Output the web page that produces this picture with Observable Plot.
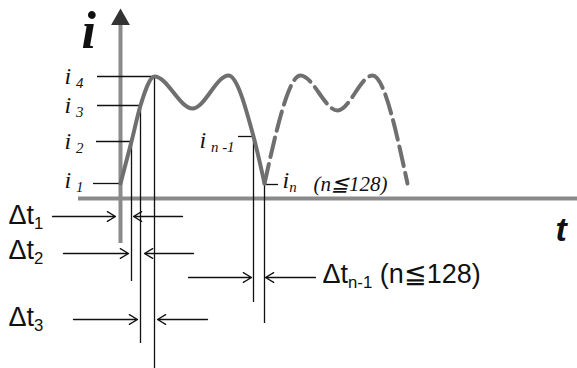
<!DOCTYPE html>
<html><head><meta charset="utf-8">
<script src="https://cdn.jsdelivr.net/npm/d3@7"></script>
<script src="https://cdn.jsdelivr.net/npm/@observablehq/plot@0.6"></script>
<style>body{margin:0;background:#fff}</style>
</head><body><div id="chart"></div>
<script>
// waveform (t, i) – solid part and dashed continuation
const solidT = [0, 11, 20, 34, 72, 108, 133, 144];
const solidI = [15, 57, 93, 122, 90, 123, 62, 15];
const dashT = [144, 180, 217, 252, 287];
const dashI = [15, 123, 88, 123, 15];

// sampled points i1..i4, i(n-1), i(n)
const sampleNames = ["i\u2009[1]", "i\u2009[2]", "i\u2009[3]", "i\u2009[4]", "i\u2009[n -1]", "i[n]"];
const sampleT = [0, 11, 20, 34, 133, 144];
const sampleI = [15, 57, 93, 122, 62, 14];
const levelEnd = [-27, -24, -23, -23, 118, 158];
const dropEnd = [15, -83, -145, -170, -104, -125];
const labelT = [-56, -56, -56, -56, 79, 162];
const labelI = [11, 50, 86, 115, 51, 11];

// interval annotations
const intervalNames = ["Δt[1]", "Δt[2]", "Δt[3]", "Δt[n-1] (n≦128)"];
const intervalRow = [-18, -55, -121, -79];
const leftTail = [-68, -57, -47, 68];
const leftTip = [-5, 8, 17, 131];
const rightTip = [13, 24, 37, 145];
const rightTail = [62, 73, 87, 195];
const intervalLabelT = [-112, -112, -112, 202];
const intervalLabelI = [-25, -60, -127, -84];

const samples = sampleNames.map((name, k) => ({name, t: sampleT[k], i: sampleI[k], end: levelEnd[k], drop: dropEnd[k], lt: labelT[k], li: labelI[k]}));
const intervals = intervalNames.map((name, k) => ({name, row: intervalRow[k], lt0: leftTail[k], lt1: leftTip[k], rt0: rightTail[k], rt1: rightTip[k], xt: intervalLabelT[k], yt: intervalLabelI[k]}));
const solid = solidT.map((t, k) => ({t, i: solidI[k]}));
const dashed = dashT.map((t, k) => ({t, i: dashI[k]}));

const axisGray = "#8a8a8a";
const curveGray = "#6f6f6f";

const svg = Plot.plot({
  width: 577, height: 368,
  margin: 0,
  x: {domain: [-120, 457], range: [0, 577], axis: null},
  y: {domain: [-170, 198], range: [368, 0], axis: null},
  style: {background: "#fff"},
  marks: [
    // axes
    Plot.ruleY([0], {x1: -42, x2: 457, stroke: axisGray, strokeWidth: 4}),
    Plot.ruleX([0], {y1: -45, y2: 176, stroke: axisGray, strokeWidth: 4}),
    Plot.dot([{t: 0, i: 179}], {x: "t", y: "i", symbol: "triangle", r: 7, fill: "#333", stroke: "none"}),
    // guides
    Plot.ruleY(samples, {y: "i", x1: "end", x2: "t", stroke: "#111", strokeWidth: 1.3}),
    Plot.ruleX(samples.filter(d => d.drop < d.i && d.t !== 0), {x: "t", y1: "i", y2: "drop", stroke: "#111", strokeWidth: 1.3}),
    // waveform
    Plot.line(solid, {x: "t", y: "i", curve: "monotone-x", stroke: curveGray, strokeWidth: 4}),
    Plot.line(dashed, {x: "t", y: "i", curve: "monotone-x", stroke: curveGray, strokeWidth: 4, strokeDasharray: "20,7"}),
    // interval arrows
    Plot.arrow(intervals, {x1: "lt0", x2: "lt1", y1: "row", y2: "row", stroke: "#111", strokeWidth: 1.3, headLength: 11, headAngle: 62}),
    Plot.arrow(intervals, {x1: "rt0", x2: "rt1", y1: "row", y2: "row", stroke: "#111", strokeWidth: 1.3, headLength: 11, headAngle: 62}),
    // labels
    Plot.text(samples, {x: "lt", y: "li", text: "name", textAnchor: "start", lineAnchor: "bottom", fontFamily: "Liberation Serif", fontStyle: "italic", fontSize: 24, fill: "#111"}),
    Plot.text(["(n≦128)"], {x: 193, y: 8, text: d => d, textAnchor: "start", lineAnchor: "bottom", fontFamily: "Liberation Serif", fontStyle: "italic", fontSize: 21, fill: "#111"}),
    Plot.text(intervals, {x: "xt", y: "yt", text: "name", textAnchor: "start", lineAnchor: "bottom", fontFamily: "Liberation Sans", fontSize: 27, fill: "#111"}),
    Plot.text(["i"], {x: -39, y: 151, text: d => d, textAnchor: "start", lineAnchor: "bottom", fontFamily: "Liberation Serif", fontStyle: "italic", fontWeight: "bold", fontSize: 52, fill: "#111"}),
    Plot.text(["t"], {x: 435, y: -42, text: d => d, textAnchor: "start", lineAnchor: "bottom", fontFamily: "Liberation Sans", fontStyle: "italic", fontWeight: "bold", fontSize: 34, fill: "#111"})
  ]
});

// turn [..] markup into subscript tspans
d3.select(svg).selectAll("text").each(function() {
  const txt = this.textContent;
  if (!txt.includes("[")) return;
  const parts = txt.split(/(\[[^\]]*\])/).filter(s => s.length);
  const el = d3.select(this);
  el.text(null);
  let down = false;
  for (const p of parts) {
    if (p.startsWith("[")) {
      el.append("tspan").attr("font-size", "0.62em").attr("dy", "0.33em").text(p.slice(1, -1));
      down = true;
    } else {
      const ts = el.append("tspan").text(p);
      if (down) { ts.attr("dy", "-0.2em"); down = false; }
    }
  }
});

document.getElementById("chart").appendChild(svg);
</script>
</body></html>
